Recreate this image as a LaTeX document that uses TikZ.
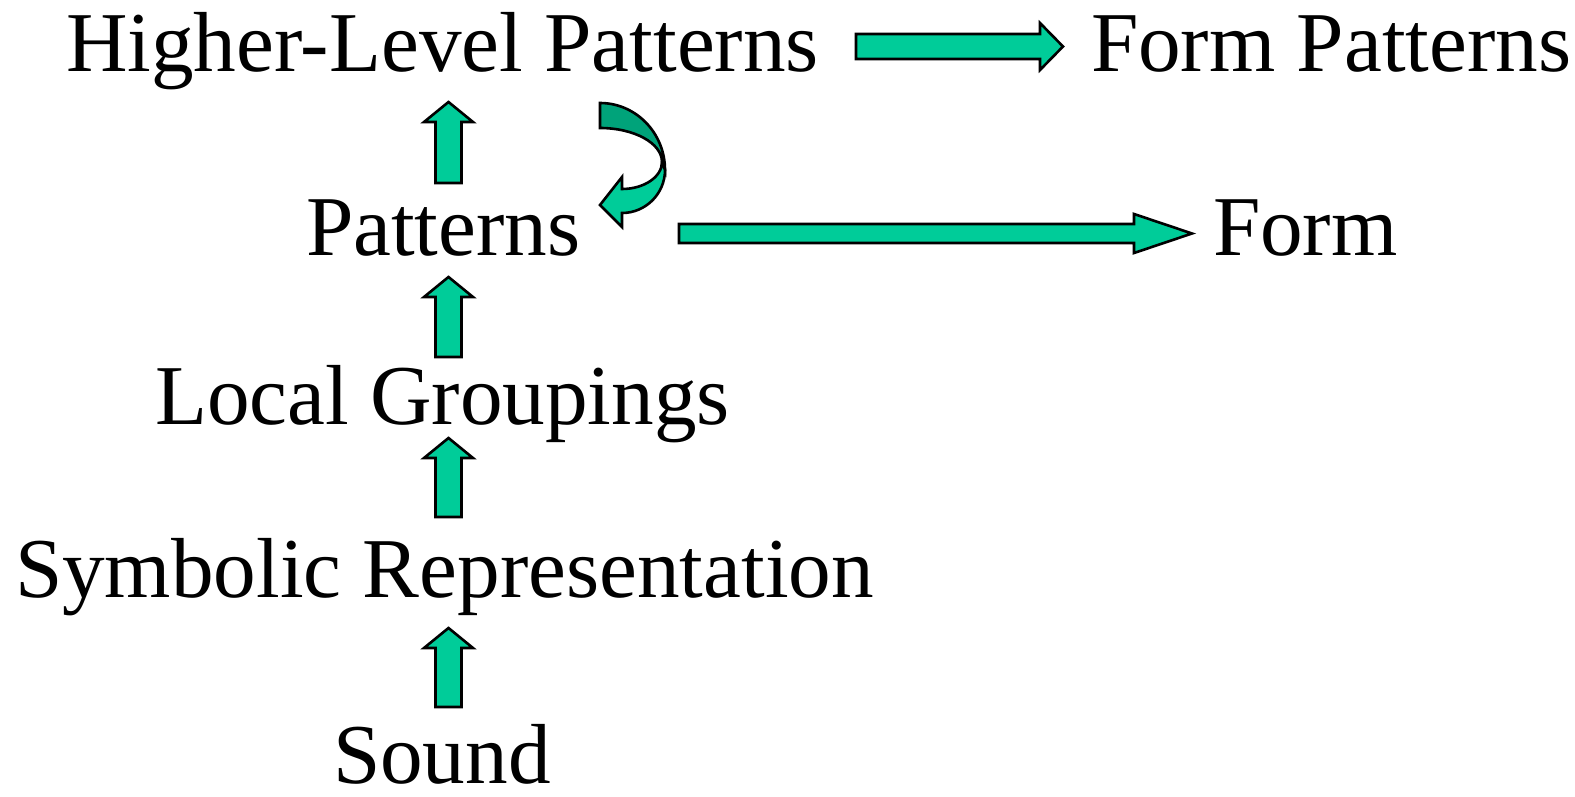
\documentclass[tikz,border=0pt]{standalone}
\usepackage{fontspec}
\setmainfont{Liberation Serif}
\definecolor{arrgreen}{RGB}{0,204,153}
\definecolor{arrdark}{RGB}{0,163,122}
\tikzset{
  lbl/.style={anchor=base west, inner sep=0pt, outer sep=0pt, font=\fontsize{42.6pt}{50pt}\selectfont},
  blk/.style={draw=black, fill=arrgreen, line width=1.3pt, line join=miter},
  blkdark/.style={draw=black, fill=arrdark, line width=1.3pt, line join=miter}
}
\newcommand\blockup[2]{% tip y, bottom y ; x centre 448.5
  \draw[blk] (448.5,#1) -- (473,#1+20) -- (461.5,#1+20) -- (461.5,#2) -- (435.5,#2) -- (435.5,#1+20) -- (424,#1+20) -- cycle;}
\begin{document}
\begin{tikzpicture}[x=0.5pt,y=-0.5pt]
\useasboundingbox (0,0) rectangle (1575,797);
% text nodes
\node[lbl] (hl) at (66,72) {Higher-Level Patterns};
\node[lbl] (fp) at (1091,72) {Form Patterns};
\node[lbl] (pat) at (306,256) {Patterns};
\node[lbl] (form) at (1213,256) {Form};
\node[lbl] (loc) at (155,424) {Local Groupings};
\node[lbl] (sym) at (15,597) {Symbolic Representation};
\node[lbl] (snd) at (333,783) {Sound};
% up block arrows
\blockup{102}{183}
\blockup{277}{357}
\blockup{438}{517}
\blockup{628}{707}
% right block arrows
\draw[blk] (856,34) -- (1040,34) -- (1040,23) -- (1063,46.5) -- (1040,70) -- (1040,59) -- (856,59) -- cycle;
\draw[blk] (679,224) -- (1134,224) -- (1134,214) -- (1192,233.5) -- (1134,253) -- (1134,243) -- (679,243) -- cycle;
% curved arrow: back (dark) part
\draw[blkdark] (600,103) .. controls (635.9,103) and (665,133) .. (665,170)
  -- (662,162) .. controls (662,143.2) and (634.2,128) .. (600,128) -- cycle;
% front (light) part with head
\draw[blk] (662,162) .. controls (662,176.9) and (644,189) .. (622,189)
  -- (622,177) -- (600,205) -- (622,227) -- (622,213)
  .. controls (645.7,213) and (665,193.7) .. (665,170) -- cycle;
\end{tikzpicture}
\end{document}
